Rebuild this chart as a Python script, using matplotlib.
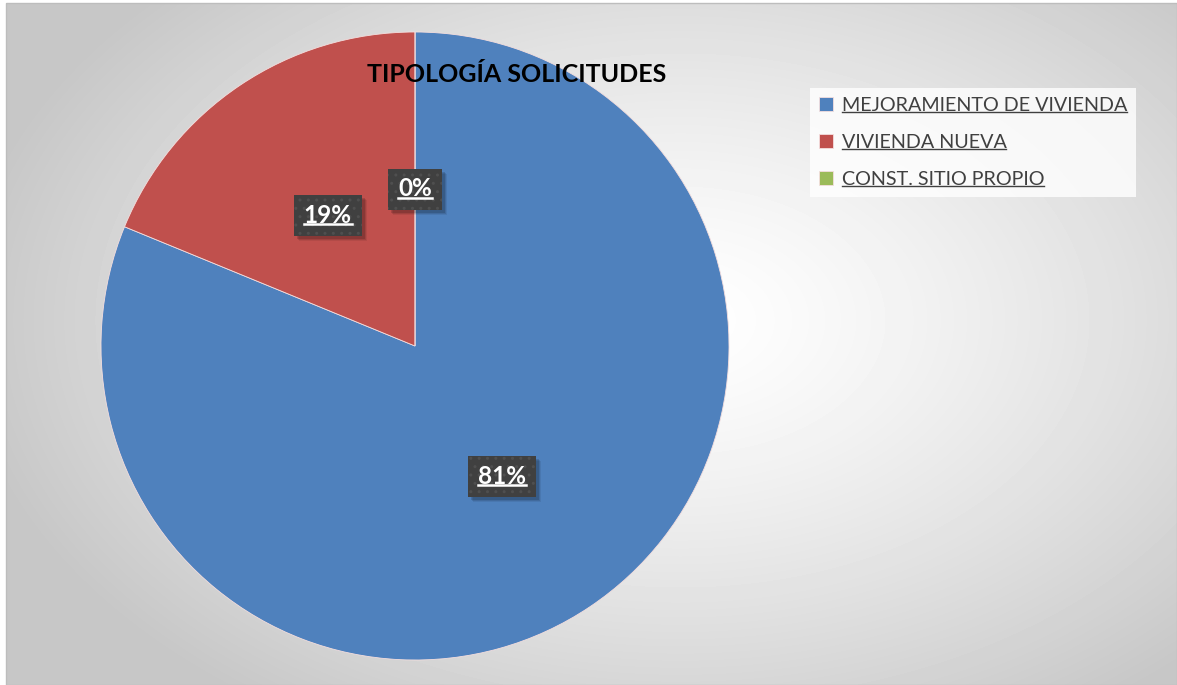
import numpy as np
import matplotlib
matplotlib.use('Agg')
import matplotlib.pyplot as plt
from matplotlib.lines import Line2D
from matplotlib.patches import Rectangle

categories = ['MEJORAMIENTO DE VIVIENDA', 'VIVIENDA NUEVA', 'CONST. SITIO PROPIO']
values = [81.2, 18.8, 0.0]
colors = ['#4F81BD', '#C0504D', '#9BBB59']
title = 'TIPOLOGÍA SOLICITUDES'

W, H = 1177, 685
FONT = 'Lato'
fig = plt.figure(figsize=(W / 100, H / 100), dpi=100)
fig.patch.set_facecolor('white')

# radial gradient background
bg = fig.add_axes([6 / W, 0, 1 - 6 / W, 1 - 3 / H], zorder=-10)
yy, xx = np.mgrid[3:H, 6:W].astype(float)
cx, cy, a, b = 680.0, 320.0, 720.0, 470.0
d = np.sqrt(((xx - cx) / a) ** 2 + ((yy - cy) / b) ** 2)
v = 1.0 - 0.22 * np.clip(d, 0, 1) ** 1.3
bg.imshow(v, cmap='gray', vmin=0, vmax=1, aspect='auto', interpolation='bilinear',
          extent=[0, 1, 0, 1])
bg.set_xlim(0, 1); bg.set_ylim(0, 1)
bg.axis('off')
fig.add_artist(Rectangle((6 / W, 0), 1 - 6 / W, 1 - 3 / H, transform=fig.transFigure,
                         fill=False, edgecolor='#bdbdbd', linewidth=1.0, zorder=-5))

# pie
R = 314
ax = fig.add_axes([(415 - R) / W, (H - 346 - R) / H, 2 * R / W, 2 * R / H])
wedges, texts, autotexts = ax.pie(values, colors=colors, startangle=90, counterclock=False,
                                  autopct='%1.0f%%', pctdistance=0.5,
                                  wedgeprops=dict(linewidth=0.6, edgecolor='#f4dede'))
ax.set_xlim(-1, 1); ax.set_ylim(-1, 1)
ax.set_aspect('equal', adjustable='box')

for t in autotexts:
    t.set_color('white')
    t.set_fontweight('bold')
    t.set_fontsize(17.5)
    t.set_family(FONT)
    t.set_zorder(6)

# title
fig.text(517 / W, 1 - 75 / H, title, ha='center', va='center', fontsize=18,
         fontweight='bold', family=FONT, color='black')

# legend
leg = fig.legend(wedges, categories, loc='upper left', bbox_to_anchor=(810 / W, 1 - 88 / H),
                 frameon=True, fancybox=False, handlelength=0.7, handleheight=0.7,
                 handletextpad=0.45, labelspacing=1.02, borderpad=0.45, borderaxespad=0,
                 prop=dict(family=FONT, size=14.2))
leg.get_frame().set_facecolor((1, 1, 1, 0.22))
leg.get_frame().set_edgecolor('none')
for txt in leg.get_texts():
    txt.set_color('#404040')

# label boxes, shadows and underlines
fig.canvas.draw()
renderer = fig.canvas.get_renderer()
BOX_H = 41
for t in autotexts:
    bb = t.get_window_extent(renderer)
    xc = (bb.x0 + bb.x1) / 2
    yc = (bb.y0 + bb.y1) / 2
    bw = bb.width + 20
    x0, y0 = xc - bw / 2, yc - BOX_H / 2
    for dx, al in [(6, 0.07), (5, 0.10), (4, 0.14)]:
        ax.add_patch(Rectangle(((x0 + dx - 1) / W, (y0 - dx + 1) / H), bw / W, BOX_H / H,
                               transform=fig.transFigure, facecolor='black', alpha=al,
                               linewidth=0, clip_on=False, zorder=3))
    ax.add_patch(Rectangle((x0 / W, y0 / H), bw / W, BOX_H / H, transform=fig.transFigure,
                           facecolor='#404040', edgecolor='#4f4f4f', linewidth=0,
                           hatch='..', clip_on=False, zorder=4))
    yl = bb.y0 + 0.12 * bb.height
    ax.add_line(Line2D([bb.x0 / W, bb.x1 / W], [yl / H, yl / H], transform=fig.transFigure,
                       color='white', linewidth=1.8, clip_on=False, zorder=7))

for t in leg.get_texts():
    bb = t.get_window_extent(renderer)
    yl = bb.y0 + 0.12 * bb.height
    fig.add_artist(Line2D([bb.x0 / W, bb.x1 / W], [yl / H, yl / H], transform=fig.transFigure,
                          color='#404040', linewidth=1.0, zorder=10))

fig.savefig('out.png', dpi=100)
